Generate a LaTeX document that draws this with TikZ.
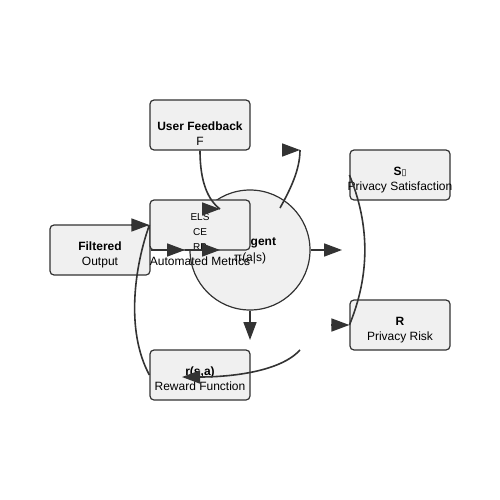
\documentclass[tikz,border=0pt]{standalone}
\usepackage{fontspec}
\setmainfont{Liberation Sans}
\newfontfamily\symfont{DejaVu Sans}
\usetikzlibrary{arrows.meta}
\definecolor{ink}{HTML}{333333}
\definecolor{boxfill}{HTML}{F0F0F0}
\tikzset{
  box/.style={draw=ink, fill=boxfill, line width=1.2pt, rounded corners=4pt, minimum width=100pt, minimum height=50pt, inner sep=0pt},
  title/.style={font=\bfseries\fontsize{12}{14}\selectfont, anchor=base, inner sep=0pt},
  sub/.style={font=\fontsize{12}{14}\selectfont, anchor=base, inner sep=0pt},
  small/.style={font=\fontsize{10}{12}\selectfont, anchor=base, inner sep=0pt},
  edge/.style={draw=ink, line width=1.6pt},
  tip/.style={edge, -{Triangle[length=18pt,width=13pt]}}
}
\begin{document}
\begin{tikzpicture}[x=1pt,y=-1pt]
        \useasboundingbox (0,0) rectangle (500,500);
        \node[circle, draw=ink, fill=boxfill, line width=1.2pt, minimum size=120pt, inner sep=0pt] (ag) at (250,250) {};
        \node[title] (agt) at (259,245) {Agent};
        \node[sub] (ags) at (250,261) {π(a|s)};
        \node[box] (uf) at (200,125) {};
        \node[title] (uft) at (200,130) {User Feedback};
        \node[sub] (ufs) at (200,145) {F};
        \node[box] (fo) at (100,250) {};
        \node[title] (fot) at (100,250) {Filtered};
        \node[sub] (fos) at (100,265) {Output};
        \node[box] (am) at (200,225) {};
        \node[small] (am1) at (200,220) {ELS};
        \node[small] (am2) at (200,235) {CE};
        \node[small] (am3) at (200,250) {RB};
        \node[sub] (amt) at (200,265) {Automated Metrics};
        \node[box] (sp) at (400,175) {};
        \node[title] (spt) at (400,175) {S{\symfont\mdseries\fontsize{9}{10}\selectfont ▯}};
        \node[sub] (sps) at (400,190) {Privacy Satisfaction};
        \node[box] (pr) at (400,325) {};
        \node[title] (prt) at (400,325) {R};
        \node[sub] (prs) at (400,340) {Privacy Risk};
        \node[box] (rf) at (200,375) {};
        \node[title] (rft) at (200,375.5) {r(s,a)};
        \node[sub] (rfs) at (200,390) {Reward Function};
        \coordinate (m1) at (185,250);
        \coordinate (m2) at (220,250);
        \coordinate (ae) at (342,250);
        \coordinate (ad) at (250,340);
        \coordinate (af) at (220,209);
        \coordinate (aq) at (280,208);
        \coordinate (au) at (300,150);
        \coordinate (ab) at (300,350);
        \coordinate (ar) at (182,377);
        \draw[tip] (fo.east) -- (m1);
        \draw[tip] (m1) -- (m2);
        \draw[tip] (ag.east) -- (ae);
        \draw[tip] (ag.south) -- (ad);
        \draw[edge] (rf.west) .. controls (125,330) and (135,265) .. (am.west);
        \draw[tip] ([xshift=-18pt]am.west) -- (am.west);
        \draw[edge] (uf.south) .. controls (200,182) and (208,200) .. (af);
        \draw[tip] ([xshift=-18pt]af) -- (af);
        \draw[edge] (aq) .. controls (290,190) and (300,170) .. (au);
        \draw[tip] ([xshift=-18pt]au) -- (au);
        \draw[edge] (sp.west) .. controls (370,225) and (370,275) .. (pr.west);
        \draw[tip] ([xshift=-18pt]pr.west) -- (pr.west);
        \draw[tip] (ab) .. controls (280,372) and (230,377) .. (ar);
    \end{tikzpicture}
\end{document}
